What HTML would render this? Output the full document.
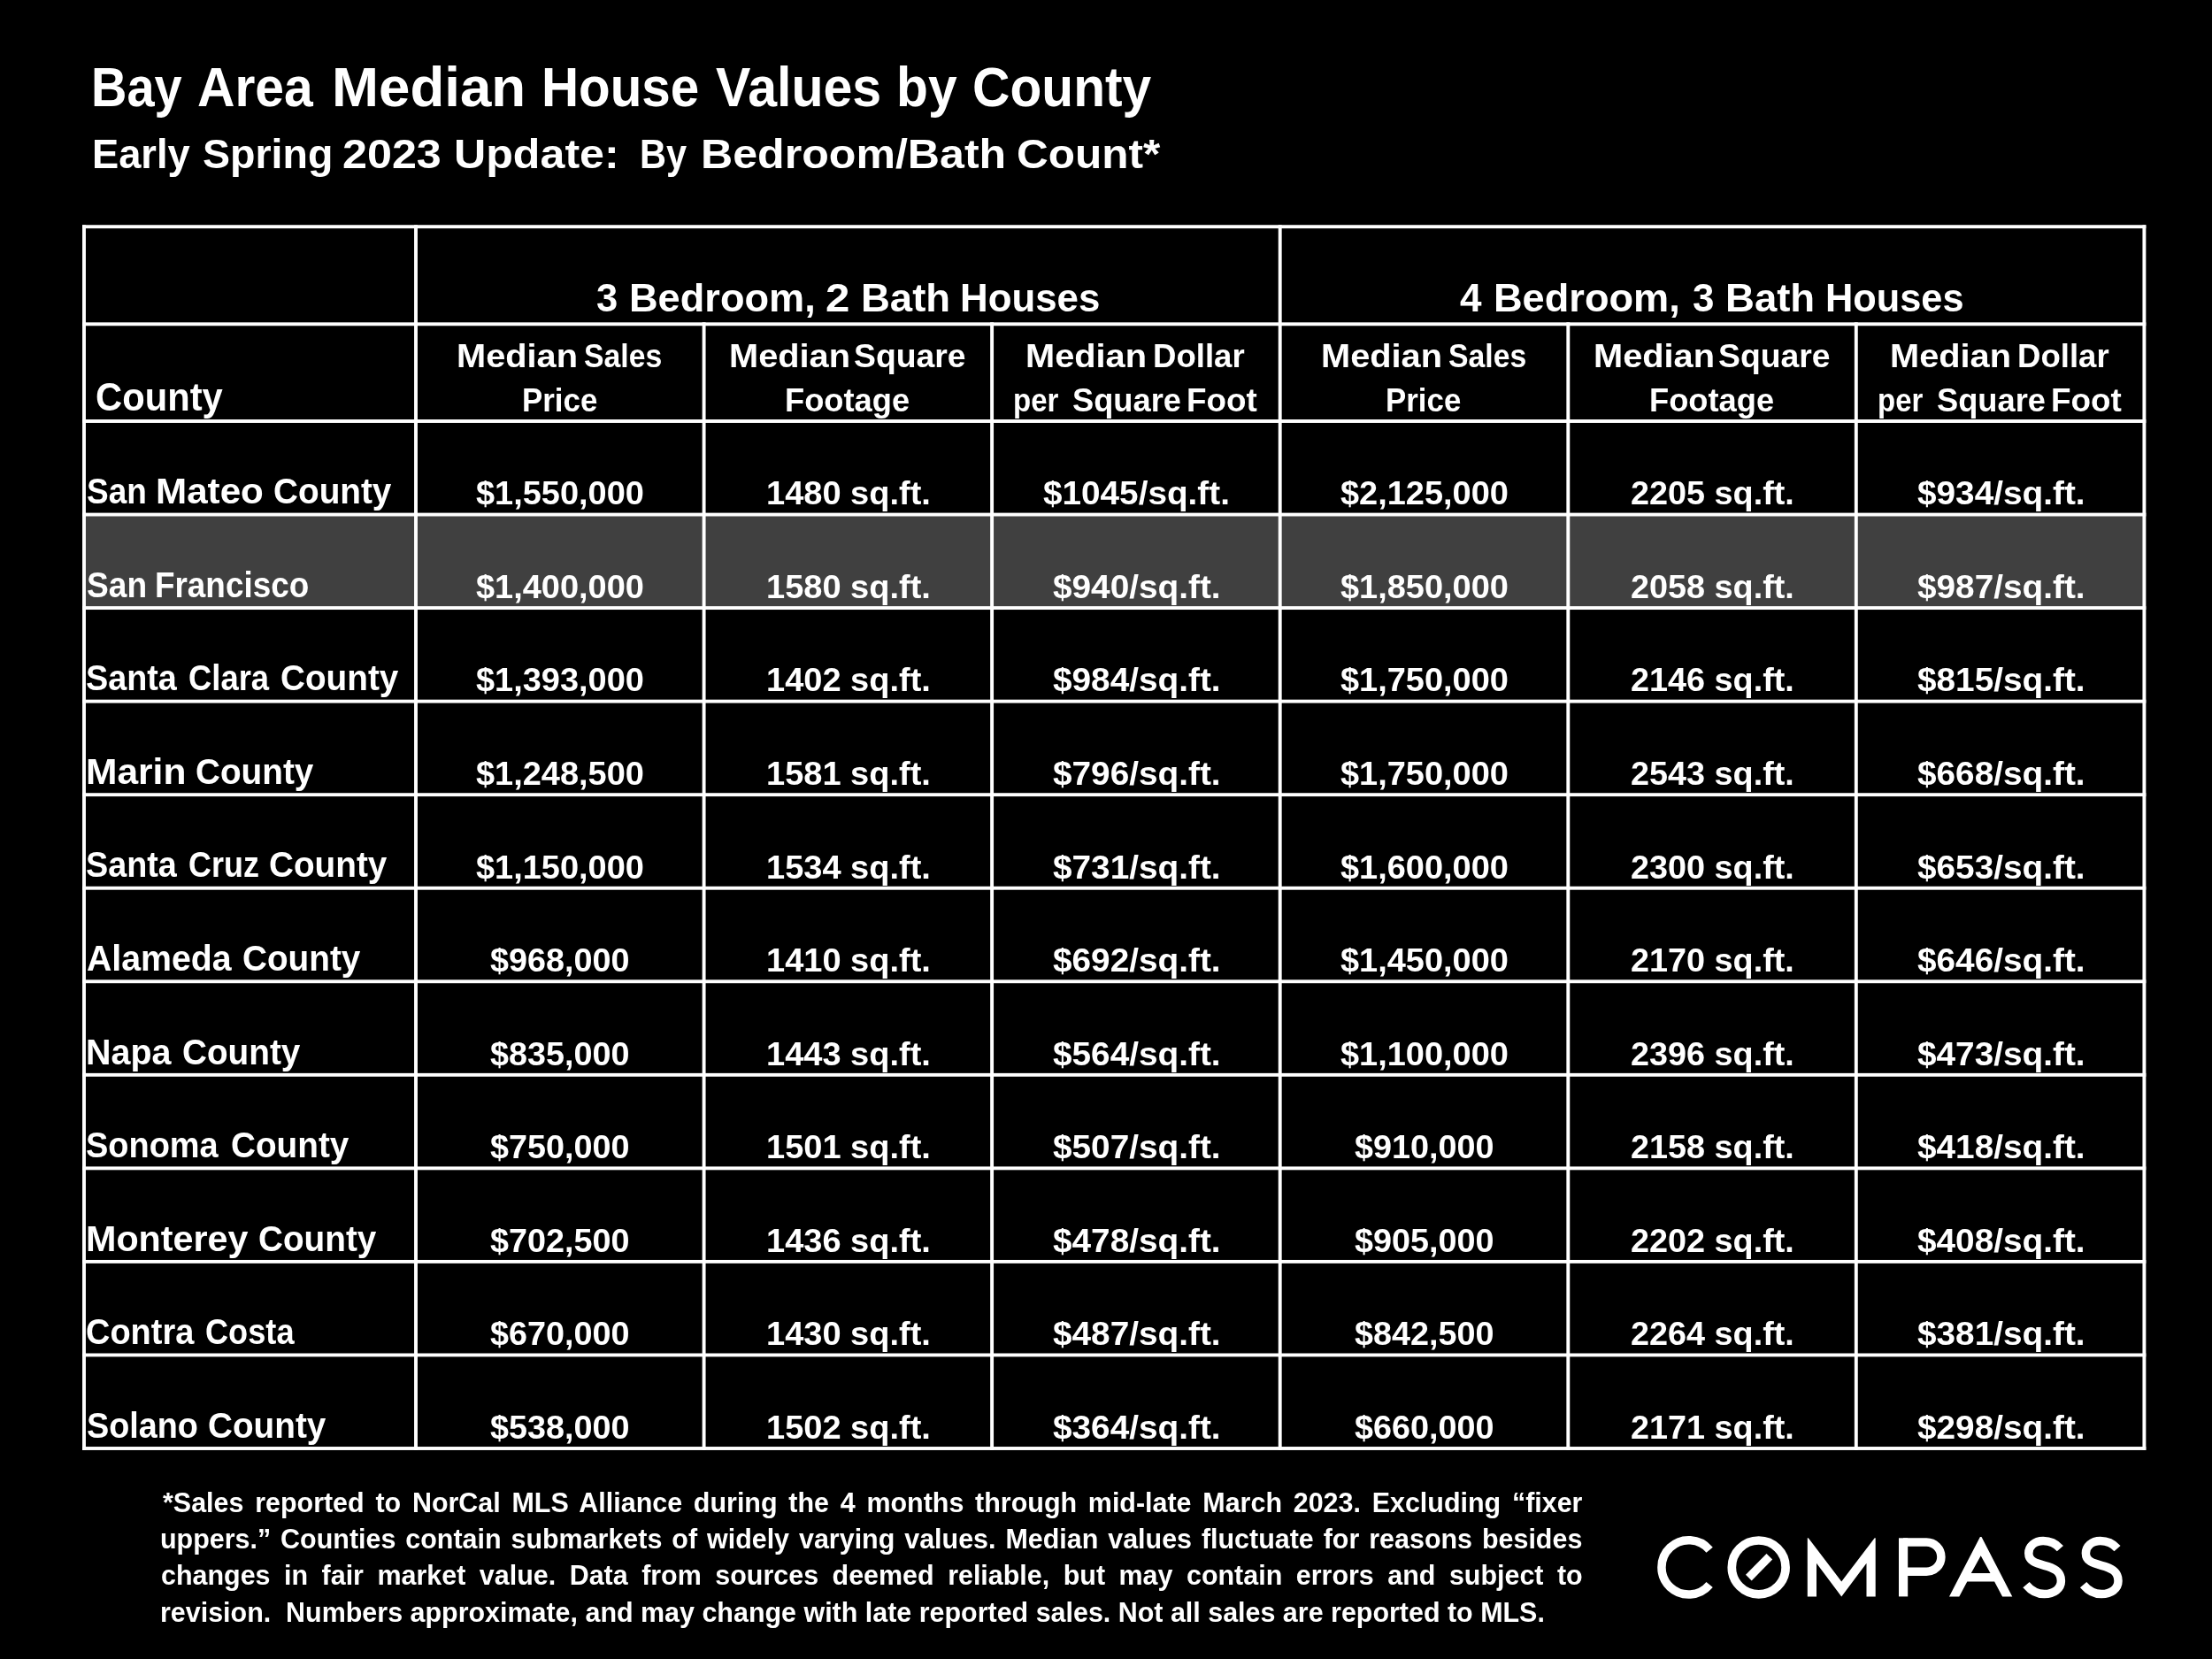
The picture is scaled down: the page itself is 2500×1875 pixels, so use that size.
<!DOCTYPE html>
<html lang="en"><head><meta charset="utf-8"><title>Bay Area Median House Values by County</title>
<style>
html,body{margin:0;padding:0;background:#000;}
body{width:2500px;height:1875px;position:relative;overflow:hidden;font-family:"Liberation Sans",sans-serif;color:#fff;font-weight:bold;}
.t{position:absolute;white-space:pre;transform-origin:0 0;margin:0;padding:0;display:block;}
.w{position:absolute;top:0;white-space:pre;transform-origin:0 0;display:block;}

.g{position:absolute;left:0;top:0;}
#txt{position:absolute;left:0;top:0;width:2500px;height:1875px;will-change:transform;}
.title{font-size:62.1px;line-height:62.1px;}
.sub{font-size:45.9px;line-height:45.9px;}
.grp{font-size:44.8px;line-height:44.8px;}
.hdr{font-size:37.0px;line-height:37.0px;}
.lab{font-size:40.6px;line-height:40.6px;}
.dat{font-size:37.4px;line-height:37.4px;}
.foot{font-size:31.4px;line-height:31.4px;}
.j{white-space:normal;text-align:justify;text-align-last:justify;}
</style></head>
<body>
<svg class="g" width="2500" height="1875" viewBox="0 0 2500 1875">
<rect x="95.0" y="581.55" width="2328.4" height="105.55" fill="#404040"/>
<g fill="#fff">
<rect x="93.05" y="254.25" width="2332.3" height="3.9"/>
<rect x="93.05" y="364.35" width="2332.3" height="3.9"/>
<rect x="93.05" y="474.05" width="2332.3" height="3.9"/>
<rect x="93.05" y="579.6" width="2332.3" height="3.9"/>
<rect x="93.05" y="685.14" width="2332.3" height="3.9"/>
<rect x="93.05" y="790.69" width="2332.3" height="3.9"/>
<rect x="93.05" y="896.23" width="2332.3" height="3.9"/>
<rect x="93.05" y="1001.78" width="2332.3" height="3.9"/>
<rect x="93.05" y="1107.32" width="2332.3" height="3.9"/>
<rect x="93.05" y="1212.87" width="2332.3" height="3.9"/>
<rect x="93.05" y="1318.41" width="2332.3" height="3.9"/>
<rect x="93.05" y="1423.96" width="2332.3" height="3.9"/>
<rect x="93.05" y="1529.5" width="2332.3" height="3.9"/>
<rect x="93.05" y="1635.05" width="2332.3" height="3.9"/>
<rect x="93.05" y="254.25" width="3.9" height="1384.7"/>
<rect x="468.05" y="254.25" width="3.9" height="1384.7"/>
<rect x="793.65" y="364.35" width="3.9" height="1274.6"/>
<rect x="1119.15" y="364.35" width="3.9" height="1274.6"/>
<rect x="1444.75" y="254.25" width="3.9" height="1384.7"/>
<rect x="1770.35" y="364.35" width="3.9" height="1274.6"/>
<rect x="2095.85" y="364.35" width="3.9" height="1274.6"/>
<rect x="2421.45" y="254.25" width="3.9" height="1384.7"/>
</g>
<g id="logo" fill="none" stroke="#fff" stroke-width="9.5">
<path d="M1932.15,1751.78 A30.65,30.65 0 1 0 1932.15,1791.02"/>
<circle cx="1987.7" cy="1771.4" r="30.4" stroke-width="9.7"/>
<path d="M1976.35,1783.1 L1999.85,1759.3" stroke-width="9.4"/>
<path d="M2151,1743.05 H2177.35 A16.6,16.6 0 0 1 2177.35,1776.25 H2151"/>
<path id="s" d="M2328.4,1750.1 C2323.9,1745.0 2317.5,1741.5 2309.2,1741.5 C2299.5,1741.5 2292.8,1747.5 2292.8,1755.4 C2292.8,1764.5 2301.0,1766.8 2310.5,1769.3 C2320.5,1771.9 2329.4,1775.5 2329.4,1786.7 C2329.4,1795.5 2321.5,1801.5 2310.5,1801.5 C2301.5,1801.5 2294.8,1796.9 2290.0,1791.1"/>
<path transform="translate(64.6,0)" d="M2328.4,1750.1 C2323.9,1745.0 2317.5,1741.5 2309.2,1741.5 C2299.5,1741.5 2292.8,1747.5 2292.8,1755.4 C2292.8,1764.5 2301.0,1766.8 2310.5,1769.3 C2320.5,1771.9 2329.4,1775.5 2329.4,1786.7 C2329.4,1795.5 2321.5,1801.5 2310.5,1801.5 C2301.5,1801.5 2294.8,1796.9 2290.0,1791.1"/>
</g>
<g fill="#fff">
<path d="M2042.8,1804.4 V1738.3 H2043.8 L2081.25,1787.4 L2118.7,1738.3 H2119.7 V1804.4 H2109.5 V1766.8 L2081.25,1804.4 L2053,1766.8 V1804.4 Z"/>
<rect x="2146" y="1738.3" width="10.2" height="66.1"/>
<path fill-rule="evenodd" d="M2203,1804.4 L2237.9,1737 H2239.5 L2274.3,1804.4 H2263.1 L2254.1,1787.4 H2223.3 L2214.3,1804.4 Z M2227.8,1778 L2238.7,1758.2 L2249.5,1778 Z"/>
</g>
</svg>
<div id="txt">
<div class="t title" style="left:0;top:68px"><span class="w" style="left:103.48px;transform:scaleX(0.9018)">Bay</span> <span class="w" style="left:222.82px;transform:scaleX(0.9472)">Area</span> <span class="w" style="left:374.87px;transform:scaleX(1.0248)">Median</span> <span class="w" style="left:612.32px;transform:scaleX(0.9393)">House</span> <span class="w" style="left:808.58px;transform:scaleX(0.9514)">Values</span> <span class="w" style="left:1013.22px;transform:scaleX(0.9459)">by</span> <span class="w" style="left:1099.23px;transform:scaleX(0.9458)">County</span></div>
<div class="t sub" style="left:0;top:152px"><span class="w" style="left:103.59px;transform:scaleX(0.9859)">Early</span> <span class="w" style="left:228.56px;transform:scaleX(1.0140)">Spring</span> <span class="w" style="left:387.33px;transform:scaleX(1.0948)">2023</span> <span class="w" style="left:512.66px;transform:scaleX(1.0931)">Update:</span>  <span class="w" style="left:722.84px;transform:scaleX(0.9050)">By</span> <span class="w" style="left:791.87px;transform:scaleX(1.0919)">Bedroom/Bath</span> <span class="w" style="left:1148.99px;transform:scaleX(1.0792)">Count*</span></div>
<div class="t grp" style="left:0;top:314px"><span class="w" style="left:674.18px;transform:scaleX(0.9709)">3</span> <span class="w" style="left:710.68px;transform:scaleX(1.0081)">Bedroom,</span> <span class="w" style="left:933.47px;transform:scaleX(1.0975)">2</span> <span class="w" style="left:972.65px;transform:scaleX(1.0154)">Bath</span> <span class="w" style="left:1084.86px;transform:scaleX(0.9783)">Houses</span></div>
<div class="t grp" style="left:0;top:314px"><span class="w" style="left:1649.9px;transform:scaleX(0.9830)">4</span> <span class="w" style="left:1687.98px;transform:scaleX(1.0081)">Bedroom,</span> <span class="w" style="left:1913.27px;transform:scaleX(0.9799)">3</span> <span class="w" style="left:1950.45px;transform:scaleX(1.0165)">Bath</span> <span class="w" style="left:2063.4px;transform:scaleX(0.9675)">Houses</span></div>
<div class="t grp" style="left:107.92px;top:426px;transform:scaleX(0.9318)">County</div>
<div class="t hdr" style="left:0;top:384px"><span class="w" style="left:516.06px;transform:scaleX(1.0751)">Median</span> <span class="w" style="left:660.33px;transform:scaleX(0.9119)">Sales</span></div>
<div class="t hdr" style="left:589.58px;top:434px;transform:scaleX(0.9427)">Price</div>
<div class="t hdr" style="left:0;top:384px"><span class="w" style="left:824.06px;transform:scaleX(1.0751)">Median</span> <span class="w" style="left:964.91px;transform:scaleX(1.0093)">Square</span></div>
<div class="t hdr" style="left:887.29px;top:434px;transform:scaleX(0.9805)">Footage</div>
<div class="t hdr" style="left:0;top:384px"><span class="w" style="left:1158.86px;transform:scaleX(1.0751)">Median</span> <span class="w" style="left:1303.17px;transform:scaleX(0.9883)">Dollar</span></div>
<div class="t hdr" style="left:0;top:434px"><span class="w" style="left:1145.4px;transform:scaleX(0.8917)">per</span> <span class="w" style="left:1212.24px;transform:scaleX(0.9808)">Square</span> <span class="w" style="left:1340.95px;transform:scaleX(0.9953)">Foot</span></div>
<div class="t hdr" style="left:0;top:384px"><span class="w" style="left:1492.76px;transform:scaleX(1.0751)">Median</span> <span class="w" style="left:1637.03px;transform:scaleX(0.9119)">Sales</span></div>
<div class="t hdr" style="left:1566.28px;top:434px;transform:scaleX(0.9427)">Price</div>
<div class="t hdr" style="left:0;top:384px"><span class="w" style="left:1800.76px;transform:scaleX(1.0751)">Median</span> <span class="w" style="left:1941.61px;transform:scaleX(1.0093)">Square</span></div>
<div class="t hdr" style="left:1863.99px;top:434px;transform:scaleX(0.9805)">Footage</div>
<div class="t hdr" style="left:0;top:384px"><span class="w" style="left:2135.56px;transform:scaleX(1.0751)">Median</span> <span class="w" style="left:2279.87px;transform:scaleX(0.9883)">Dollar</span></div>
<div class="t hdr" style="left:0;top:434px"><span class="w" style="left:2122.1px;transform:scaleX(0.8917)">per</span> <span class="w" style="left:2188.94px;transform:scaleX(0.9808)">Square</span> <span class="w" style="left:2317.65px;transform:scaleX(0.9953)">Foot</span></div>
<div class="t lab" style="left:0;top:535px"><span class="w" style="left:97.61px;transform:scaleX(0.9110)">San</span> <span class="w" style="left:175.84px;transform:scaleX(1.0393)">Mateo</span> <span class="w" style="left:309.45px;transform:scaleX(0.9547)">County</span></div>
<div class="t dat" style="left:538.3px;top:539px;transform:scaleX(1.0148)">$1,550,000</div>
<div class="t dat" style="left:865.5px;top:539px;transform:scaleX(1.0165)">1480 sq.ft.</div>
<div class="t dat" style="left:1179.44px;top:539px;transform:scaleX(1.0354)">$1045/sq.ft.</div>
<div class="t dat" style="left:1515px;top:539px;transform:scaleX(1.0148)">$2,125,000</div>
<div class="t dat" style="left:1843.28px;top:539px;transform:scaleX(1.0105)">2205 sq.ft.</div>
<div class="t dat" style="left:2166.73px;top:539px;transform:scaleX(1.0368)">$934/sq.ft.</div>
<div class="t lab" style="left:0;top:641px"><span class="w" style="left:97.5px;transform:scaleX(0.9152)">San</span> <span class="w" style="left:174.89px;transform:scaleX(0.9085)">Francisco</span></div>
<div class="t dat" style="left:538.3px;top:645px;transform:scaleX(1.0148)">$1,400,000</div>
<div class="t dat" style="left:865.5px;top:645px;transform:scaleX(1.0165)">1580 sq.ft.</div>
<div class="t dat" style="left:1190.03px;top:645px;transform:scaleX(1.0368)">$940/sq.ft.</div>
<div class="t dat" style="left:1515px;top:645px;transform:scaleX(1.0148)">$1,850,000</div>
<div class="t dat" style="left:1843.28px;top:645px;transform:scaleX(1.0105)">2058 sq.ft.</div>
<div class="t dat" style="left:2166.73px;top:645px;transform:scaleX(1.0368)">$987/sq.ft.</div>
<div class="t lab" style="left:0;top:746px"><span class="w" style="left:97.48px;transform:scaleX(0.9302)">Santa</span> <span class="w" style="left:212.54px;transform:scaleX(0.8969)">Clara</span> <span class="w" style="left:316.95px;transform:scaleX(0.9540)">County</span></div>
<div class="t dat" style="left:538.3px;top:750px;transform:scaleX(1.0148)">$1,393,000</div>
<div class="t dat" style="left:865.5px;top:750px;transform:scaleX(1.0165)">1402 sq.ft.</div>
<div class="t dat" style="left:1190.03px;top:750px;transform:scaleX(1.0368)">$984/sq.ft.</div>
<div class="t dat" style="left:1515px;top:750px;transform:scaleX(1.0148)">$1,750,000</div>
<div class="t dat" style="left:1843.28px;top:750px;transform:scaleX(1.0105)">2146 sq.ft.</div>
<div class="t dat" style="left:2166.73px;top:750px;transform:scaleX(1.0368)">$815/sq.ft.</div>
<div class="t lab" style="left:0;top:852px"><span class="w" style="left:96.82px;transform:scaleX(1.0480)">Marin</span> <span class="w" style="left:220.95px;transform:scaleX(0.9540)">County</span></div>
<div class="t dat" style="left:538.3px;top:856px;transform:scaleX(1.0148)">$1,248,500</div>
<div class="t dat" style="left:865.5px;top:856px;transform:scaleX(1.0165)">1581 sq.ft.</div>
<div class="t dat" style="left:1190.03px;top:856px;transform:scaleX(1.0368)">$796/sq.ft.</div>
<div class="t dat" style="left:1515px;top:856px;transform:scaleX(1.0148)">$1,750,000</div>
<div class="t dat" style="left:1843.28px;top:856px;transform:scaleX(1.0105)">2543 sq.ft.</div>
<div class="t dat" style="left:2166.73px;top:856px;transform:scaleX(1.0368)">$668/sq.ft.</div>
<div class="t lab" style="left:0;top:957px"><span class="w" style="left:97.48px;transform:scaleX(0.9302)">Santa</span> <span class="w" style="left:212.56px;transform:scaleX(0.8861)">Cruz</span> <span class="w" style="left:303.75px;transform:scaleX(0.9540)">County</span></div>
<div class="t dat" style="left:538.3px;top:962px;transform:scaleX(1.0148)">$1,150,000</div>
<div class="t dat" style="left:865.5px;top:962px;transform:scaleX(1.0165)">1534 sq.ft.</div>
<div class="t dat" style="left:1190.03px;top:962px;transform:scaleX(1.0368)">$731/sq.ft.</div>
<div class="t dat" style="left:1515px;top:962px;transform:scaleX(1.0148)">$1,600,000</div>
<div class="t dat" style="left:1843.28px;top:962px;transform:scaleX(1.0105)">2300 sq.ft.</div>
<div class="t dat" style="left:2166.73px;top:962px;transform:scaleX(1.0368)">$653/sq.ft.</div>
<div class="t lab" style="left:0;top:1063px"><span class="w" style="left:97.67px;transform:scaleX(0.9678)">Alameda</span> <span class="w" style="left:273.95px;transform:scaleX(0.9540)">County</span></div>
<div class="t dat" style="left:554.4px;top:1067px;transform:scaleX(1.0100)">$968,000</div>
<div class="t dat" style="left:865.5px;top:1067px;transform:scaleX(1.0165)">1410 sq.ft.</div>
<div class="t dat" style="left:1190.03px;top:1067px;transform:scaleX(1.0368)">$692/sq.ft.</div>
<div class="t dat" style="left:1515px;top:1067px;transform:scaleX(1.0148)">$1,450,000</div>
<div class="t dat" style="left:1843.28px;top:1067px;transform:scaleX(1.0105)">2170 sq.ft.</div>
<div class="t dat" style="left:2166.73px;top:1067px;transform:scaleX(1.0368)">$646/sq.ft.</div>
<div class="t lab" style="left:0;top:1169px"><span class="w" style="left:97.02px;transform:scaleX(0.9714)">Napa</span> <span class="w" style="left:206.35px;transform:scaleX(0.9540)">County</span></div>
<div class="t dat" style="left:554.4px;top:1173px;transform:scaleX(1.0100)">$835,000</div>
<div class="t dat" style="left:865.5px;top:1173px;transform:scaleX(1.0165)">1443 sq.ft.</div>
<div class="t dat" style="left:1190.03px;top:1173px;transform:scaleX(1.0368)">$564/sq.ft.</div>
<div class="t dat" style="left:1515px;top:1173px;transform:scaleX(1.0148)">$1,100,000</div>
<div class="t dat" style="left:1843.28px;top:1173px;transform:scaleX(1.0105)">2396 sq.ft.</div>
<div class="t dat" style="left:2166.73px;top:1173px;transform:scaleX(1.0368)">$473/sq.ft.</div>
<div class="t lab" style="left:0;top:1274px"><span class="w" style="left:97.47px;transform:scaleX(0.9354)">Sonoma</span> <span class="w" style="left:260.75px;transform:scaleX(0.9540)">County</span></div>
<div class="t dat" style="left:554.4px;top:1278px;transform:scaleX(1.0100)">$750,000</div>
<div class="t dat" style="left:865.5px;top:1278px;transform:scaleX(1.0165)">1501 sq.ft.</div>
<div class="t dat" style="left:1190.03px;top:1278px;transform:scaleX(1.0368)">$507/sq.ft.</div>
<div class="t dat" style="left:1531.1px;top:1278px;transform:scaleX(1.0100)">$910,000</div>
<div class="t dat" style="left:1843.28px;top:1278px;transform:scaleX(1.0105)">2158 sq.ft.</div>
<div class="t dat" style="left:2166.73px;top:1278px;transform:scaleX(1.0368)">$418/sq.ft.</div>
<div class="t lab" style="left:0;top:1380px"><span class="w" style="left:96.9px;transform:scaleX(1.0171)">Monterey</span> <span class="w" style="left:292.35px;transform:scaleX(0.9540)">County</span></div>
<div class="t dat" style="left:554.4px;top:1384px;transform:scaleX(1.0100)">$702,500</div>
<div class="t dat" style="left:865.5px;top:1384px;transform:scaleX(1.0165)">1436 sq.ft.</div>
<div class="t dat" style="left:1190.03px;top:1384px;transform:scaleX(1.0368)">$478/sq.ft.</div>
<div class="t dat" style="left:1531.1px;top:1384px;transform:scaleX(1.0100)">$905,000</div>
<div class="t dat" style="left:1843.28px;top:1384px;transform:scaleX(1.0105)">2202 sq.ft.</div>
<div class="t dat" style="left:2166.73px;top:1384px;transform:scaleX(1.0368)">$408/sq.ft.</div>
<div class="t lab" style="left:0;top:1485px"><span class="w" style="left:97.48px;transform:scaleX(0.9359)">Contra</span> <span class="w" style="left:232.35px;transform:scaleX(0.8915)">Costa</span></div>
<div class="t dat" style="left:554.4px;top:1489px;transform:scaleX(1.0100)">$670,000</div>
<div class="t dat" style="left:865.5px;top:1489px;transform:scaleX(1.0165)">1430 sq.ft.</div>
<div class="t dat" style="left:1190.03px;top:1489px;transform:scaleX(1.0368)">$487/sq.ft.</div>
<div class="t dat" style="left:1531.1px;top:1489px;transform:scaleX(1.0100)">$842,500</div>
<div class="t dat" style="left:1843.28px;top:1489px;transform:scaleX(1.0105)">2264 sq.ft.</div>
<div class="t dat" style="left:2166.73px;top:1489px;transform:scaleX(1.0368)">$381/sq.ft.</div>
<div class="t lab" style="left:0;top:1591px"><span class="w" style="left:97.58px;transform:scaleX(0.9305)">Solano</span> <span class="w" style="left:234.55px;transform:scaleX(0.9540)">County</span></div>
<div class="t dat" style="left:554.4px;top:1595px;transform:scaleX(1.0100)">$538,000</div>
<div class="t dat" style="left:865.5px;top:1595px;transform:scaleX(1.0165)">1502 sq.ft.</div>
<div class="t dat" style="left:1190.03px;top:1595px;transform:scaleX(1.0368)">$364/sq.ft.</div>
<div class="t dat" style="left:1531.1px;top:1595px;transform:scaleX(1.0100)">$660,000</div>
<div class="t dat" style="left:1843.28px;top:1595px;transform:scaleX(1.0105)">2171 sq.ft.</div>
<div class="t dat" style="left:2166.73px;top:1595px;transform:scaleX(1.0368)">$298/sq.ft.</div>
<div class="t foot j" style="left:184.29px;top:1683px;width:1654.41px;transform:scaleX(0.9698)">*Sales reported to NorCal MLS Alliance during the 4 months through mid-late March 2023. Excluding “fixer</div>
<div class="t foot j" style="left:181.39px;top:1724px;width:1657.4px;transform:scaleX(0.9698)">uppers.” Counties contain submarkets of widely varying values. Median values fluctuate for reasons besides</div>
<div class="t foot j" style="left:181.99px;top:1765px;width:1656.78px;transform:scaleX(0.9698)">changes in fair market value. Data from sources deemed reliable, but may contain errors and subject to</div>
<div class="t foot" style="left:181.39px;top:1807px;transform:scaleX(0.9698)">revision.  Numbers approximate, and may change with late reported sales. Not all sales are reported to MLS.</div>
</div>
</body></html>
